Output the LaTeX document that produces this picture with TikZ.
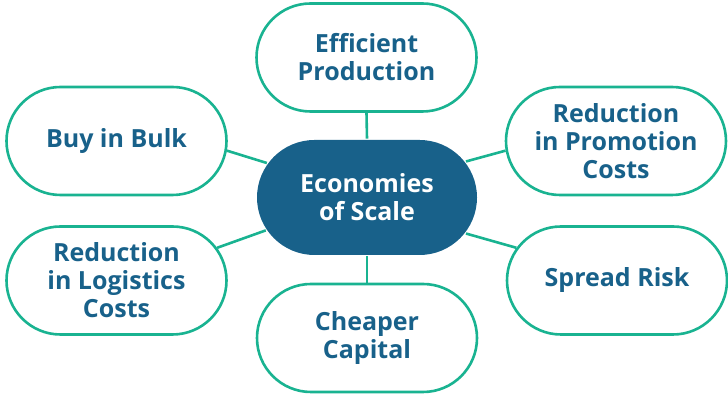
\documentclass[tikz,border=0pt]{standalone}
\usepackage{fontspec}
\setmainfont{Open Sans}
\usepackage{tikz}
\usetikzlibrary{shapes.misc}
\definecolor{scaleblue}{HTML}{18618A}
\definecolor{scalegreen}{HTML}{19B391}

\begin{document}
\begin{tikzpicture}[x=1pt, y=1pt,
	leaf/.style={rounded rectangle, draw=scalegreen, line width=2.6pt, fill=white, text=scaleblue,
		minimum width=220pt, minimum height=108pt, inner sep=0pt, align=center,
		font=\fontsize{25}{28}\selectfont\bfseries},
	hub/.style={leaf, draw=none, fill=scaleblue, text=white, minimum width=220pt, minimum height=115pt}]
	\useasboundingbox (0,0) rectangle (728,395);
	\node[hub]  (m)     at (367,197.5)   {Economies\\of Scale};
	\node[leaf] (eff)   at (366.5,337.5) {Efficient\\Production};
	\node[leaf] (bulk)  at (116.5,254)   {Buy in Bulk};
	\node[leaf] (promo) at (616,254)     {Reduction\\in Promotion\\Costs};
	\node[leaf] (logi)  at (116.5,114.5) {Reduction\\in Logistics\\Costs};
	\node[leaf] (risk)  at (617,114.5)   {Spread Risk};
	\node[leaf] (cheap) at (367,57)      {Cheaper\\Capital};
	\path[draw=scalegreen, line width=2.6pt]
	(m.north) edge (eff.south)
	(m.south) edge (cheap.north)
	(m.161)   edge (bulk.-5)
	(m.-162)  edge (logi.18)
	(m.20)    edge (promo.185)
	(m.-20)   edge (risk.162)
	;
\end{tikzpicture}
\end{document}
